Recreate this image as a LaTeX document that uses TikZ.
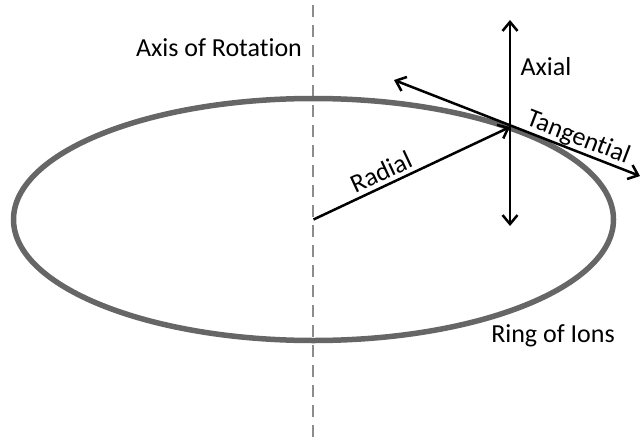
\documentclass[tikz,border=0pt]{standalone}
\usepackage{fontspec}
\setmainfont{Carlito}[Ligatures=NoCommon]
\usepackage{xcolor}
\usepackage{tikz}
\usetikzlibrary{arrows.meta}

\definecolor{ringgray}{HTML}{666666}
\definecolor{axisgray}{HTML}{8C8C8C}
\newcommand{\noti}{\kern0pt}

\begin{document}
\begin{tikzpicture}[x=1pt, y=-1pt,
    vec/.style={line width=2.5pt, black},
    lbl/.style={font=\fontsize{26}{30}\selectfont, inner sep=0pt}]
    \useasboundingbox (0,0) rectangle (640,442);
    % Axis of rotation
    \coordinate (axtop) at (313,5);
    \coordinate (axbot) at (313,442);
    \draw[axisgray, line width=2.5pt, dash pattern=on 12pt off 8pt] (axtop) -- (axbot);
    % Ring of ions
    \coordinate (ctr) at (313.5,219.5);
    \draw[ringgray, line width=5.5pt] (ctr) ellipse [x radius=300pt, y radius=121pt];
    % Point on the ring and its directions
    \coordinate (ion) at (510,127);
    \coordinate (up) at (510,20);
    \coordinate (down) at (510,226);
    \coordinate (tanl) at (394,80);
    \coordinate (tanr) at (640,176);
    \draw[vec, -{Straight Barb[length=9pt,width=15pt]}] (ctr) -- (ion);
    \draw[vec, {Straight Barb[length=9pt,width=15pt]}-{Straight Barb[length=9pt,width=15pt]}] (down) -- (up);
    \draw[vec, {Straight Barb[length=9pt,width=15pt]}-{Straight Barb[length=9pt,width=15pt]}] (tanl) -- (tanr);
    % Labels
    \node[lbl] (axislbl) at (219,48) {Axis of Rotat\noti ion};
    \node[lbl] (axiallbl) at (546,67) {Axial};
    \node[lbl, rotate=-21] (tanlbl) at (578,138) {Tangent\noti ial};
    \node[lbl, rotate=25] (radlbl) at (381,172) {Radial};
    \node[lbl] (ringlbl) at (553,336) {Ring of Ions};
\end{tikzpicture}
\end{document}
